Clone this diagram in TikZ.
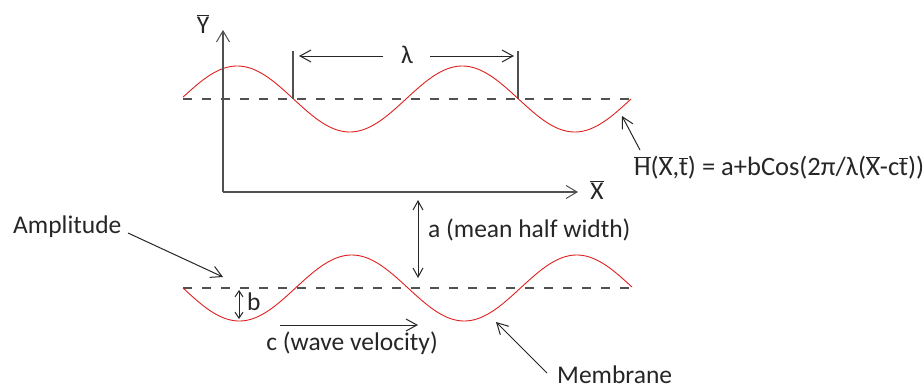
\documentclass[tikz,border=0pt]{standalone}
\usepackage{fontspec}
\setmainfont{Carlito}
\usetikzlibrary{arrows.meta}
\newcommand{\ob}[1]{$\overline{\hbox{#1}}$}
\definecolor{wavered}{HTML}{E0201E}
\definecolor{axgray}{HTML}{505050}
\definecolor{txt}{HTML}{262626}
\tikzset{
  lbl/.style={inner sep=0pt, text=txt, font=\fontsize{25.5}{30}\selectfont},
  wave/.style={draw=wavered, line width=0.9pt},
  meanline/.style={draw=axgray, line width=1.2pt, dash pattern=on 9pt off 10pt},
  axis/.style={draw=axgray, line width=1.3pt, -{Straight Barb[length=11pt,width=13pt,line width=1pt]}},
  ptr/.style={draw=txt, line width=1pt, -{Straight Barb[length=11pt,width=12pt]}},
  dbl/.style={draw=txt, line width=1pt, {Straight Barb[length=9pt,width=10pt]}-{Straight Barb[length=9pt,width=10pt]}},
  tick/.style={draw=axgray, line width=1.2pt}
}
\begin{document}
\begin{tikzpicture}[x=1pt,y=-1pt]
\useasboundingbox (0,0) rectangle (923,391);
% mean lines
\coordinate (m1a) at (183,99);
\coordinate (m1b) at (631,99);
\coordinate (m2a) at (183,288);
\coordinate (m2b) at (632,288);
\draw[meanline] (m1a) -- (m1b);
\draw[meanline] (m2a) -- (m2b);
% waves
\draw[wave] plot[domain=183:631, samples=200, smooth] (\x, {99-33*sin(1.6*(\x-181))});
\draw[wave] plot[domain=183:632, samples=200, smooth] (\x, {288+33*sin(1.6*(\x-183))});
% axes
\coordinate (O) at (223,192);
\coordinate (Ytip) at (223,30);
\coordinate (Xtip) at (578,192);
\draw[axis] (O) -- (Ytip);
\draw[axis] (O) -- (Xtip);
\node[lbl] (ylab) at (203,24) {\ob{Y}};
\node[lbl] (xlab) at (597,190) {\ob{X}};
% wavelength
\coordinate (t1a) at (293,51); \coordinate (t1b) at (293,99);
\coordinate (t2a) at (518,51); \coordinate (t2b) at (518,99);
\draw[tick] (t1a) -- (t1b);
\draw[tick] (t2a) -- (t2b);
\node[lbl] (lam) at (407,55) {λ};
\coordinate (lamL) at (299,56);
\coordinate (lamR) at (514,56);
\coordinate (lamLs) at (383,56);
\coordinate (lamRs) at (430,56);
\draw[ptr] (lamLs) -- (lamL);
\draw[ptr] (lamRs) -- (lamR);
% formula
\node[lbl, anchor=west, font=\fontsize{26.5}{31}\selectfont] (form) at (634,168) {\ob{H}(\ob{X},\ob{t}) = a+bCos(2π/λ(\ob{X}-c\ob{t}))};
\coordinate (hT) at (640,150);
\coordinate (hH) at (622,116);
\draw[ptr] (hT) -- (hH);
% a
\coordinate (aT) at (418,200);
\coordinate (aB) at (418,278);
\draw[dbl] (aT) -- (aB);
\node[lbl, anchor=west] (alab) at (428,230) {a (mean half width)};
% amplitude
\node[lbl, anchor=west] (amp) at (13,227) {Amplitude};
\coordinate (ampT) at (128,233);
\coordinate (ampH) at (223,277);
\draw[ptr] (ampT) -- (ampH);
% b
\coordinate (bT) at (239,290);
\coordinate (bB) at (239,319);
\draw[dbl, {Straight Barb[length=6pt,width=8pt]}-{Straight Barb[length=6pt,width=8pt]}] (bT) -- (bB);
\node[lbl, anchor=west] (blab) at (247,302) {b};
% c
\coordinate (cT) at (280,325);
\coordinate (cH) at (418,325);
\draw[ptr] (cT) -- (cH);
\node[lbl] (clab) at (352,343) {c (wave velocity)};
% membrane
\node[lbl, anchor=west] (mem) at (557,375) {Membrane};
\coordinate (memT) at (547,373);
\coordinate (memH) at (496,322);
\draw[ptr] (memT) -- (memH);
\end{tikzpicture}
\end{document}
